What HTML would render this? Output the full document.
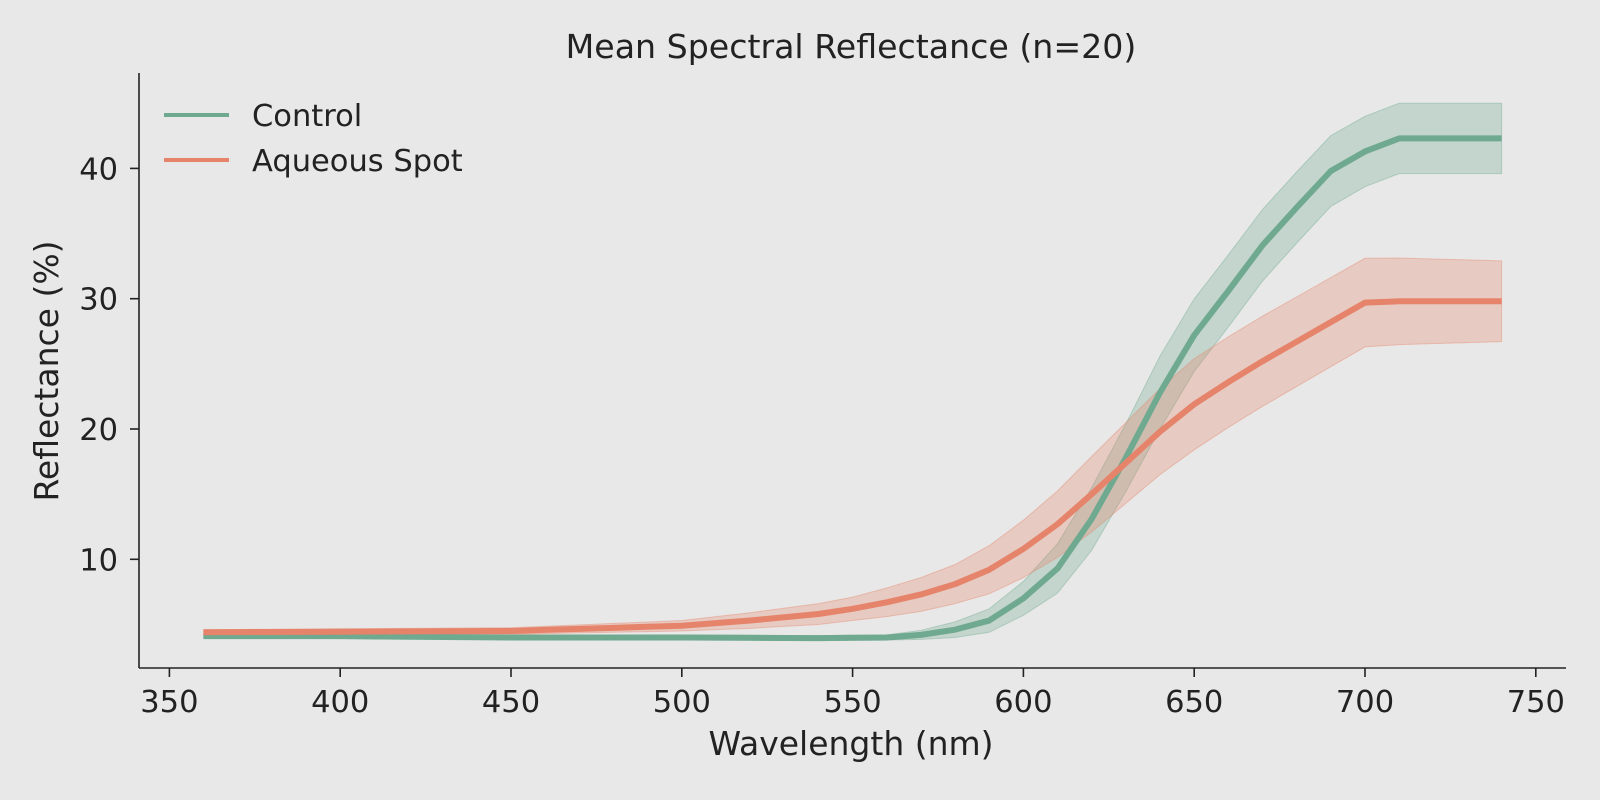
<!DOCTYPE html>
<html><head><meta charset="utf-8"><style>
html,body{margin:0;padding:0;background:#e8e8e8;}
svg{display:block;font-family:"DejaVu Sans","Liberation Sans",sans-serif;}
</style></head><body>
<svg id="s" width="1600" height="800" viewBox="0 0 1600 800">
<rect width="1600" height="800" fill="#e8e8e8"/>
<g id="bands"></g>
<g id="lines"></g>
<line x1="139" y1="73" x2="139" y2="668" stroke="#222" stroke-width="1.6"/>
<line x1="139" y1="668" x2="1566" y2="668" stroke="#222" stroke-width="1.6"/>
<g id="ticks" font-size="30.5" fill="#222"></g>
<text x="851" y="58" font-size="33.2" text-anchor="middle" fill="#222">Mean Spectral Reflectance (n=20)</text>
<text x="851" y="755" font-size="33" text-anchor="middle" fill="#222">Wavelength (nm)</text>
<text transform="translate(58,371) rotate(-90)" font-size="33" text-anchor="middle" fill="#222">Reflectance (%)</text>
<line x1="164" y1="115" x2="229" y2="115" stroke="#6fa98f" stroke-width="4"/>
<text x="252" y="126" font-size="30.5" fill="#222">Control</text>
<line x1="164" y1="160" x2="229" y2="160" stroke="#e5846a" stroke-width="4"/>
<text x="252" y="171" font-size="30.5" fill="#222">Aqueous Spot</text>
</svg>
<script>
const X=l=>169.4+(l-350)*3.416, Y=v=>559.3-(v-10)*13.03;
const wl=[];for(let l=360;l<=740;l+=10)wl.push(l);
const ctrlK={360:4.1,400:4.1,450:4.0,500:4.0,540:3.95,560:4.0,570:4.2,580:4.6,590:5.3,600:7,610:9.3,620:13.1,630:17.8,640:22.8,650:27.2,660:30.6,670:34.1,680:37,690:39.8,700:41.3,710:42.3,740:42.3};
const aqK={360:4.4,450:4.5,500:4.9,520:5.3,540:5.8,550:6.2,560:6.7,570:7.3,580:8.1,590:9.2,600:10.8,610:12.7,620:15,630:17.4,640:19.8,650:21.9,660:23.6,670:25.2,680:26.7,690:28.2,700:29.7,710:29.8,740:29.8};
const ctrlS={360:0.15,560:0.2,570:0.35,580:0.6,590:0.9,600:1.3,610:1.9,620:2.4,640:2.8,700:2.7,740:2.7};
const aqS={360:0.2,450:0.25,500:0.4,550:0.9,580:1.5,600:2.2,620:2.9,650:3.5,700:3.4,740:3.1};
function interp(k,l){const ks=Object.keys(k).map(Number).sort((a,b)=>a-b);for(let i=0;i<ks.length-1;i++){if(l>=ks[i]&&l<=ks[i+1]){const t=(l-ks[i])/(ks[i+1]-ks[i]);return k[ks[i]]+t*(k[ks[i+1]]-k[ks[i]]);}}return k[ks[ks.length-1]];}
function band(k,sk){const up=[],dn=[];wl.forEach(l=>{const v=interp(k,l),s=interp(sk,l);up.push(X(l)+','+Y(v+s));dn.unshift(X(l)+','+Y(v-s));});return 'M'+up.join('L')+'L'+dn.join('L')+'Z';}
function line(k){return 'M'+wl.map(l=>X(l)+','+Y(interp(k,l))).join('L');}
const b=document.getElementById('bands'),ln=document.getElementById('lines');
b.innerHTML=`<path d="${band(ctrlK,ctrlS)}" fill="#6fa98f" fill-opacity="0.3" stroke="#6fa98f" stroke-opacity="0.4"/>
<path d="${band(aqK,aqS)}" fill="#e5846a" fill-opacity="0.3" stroke="#e5846a" stroke-opacity="0.4"/>`;
ln.innerHTML=`<path d="${line(ctrlK)}" fill="none" stroke="#6fa98f" stroke-width="6" stroke-linejoin="round"/><path d="${line(aqK)}" fill="none" stroke="#e5846a" stroke-width="6" stroke-linejoin="round"/>`;
let t='';
for(let l=350;l<=750;l+=50){const x=X(l);t+=`<line x1="${x}" y1="668" x2="${x}" y2="677" stroke="#222" stroke-width="1.6"/><text x="${x}" y="712" text-anchor="middle">${l}</text>`;}
for(let v=10;v<=40;v+=10){const y=Y(v);t+=`<line x1="130" y1="${y}" x2="139" y2="${y}" stroke="#222" stroke-width="1.6"/><text x="118" y="${y+11}" text-anchor="end">${v}</text>`;}
document.getElementById('ticks').innerHTML=t;
</script>
</body></html>
